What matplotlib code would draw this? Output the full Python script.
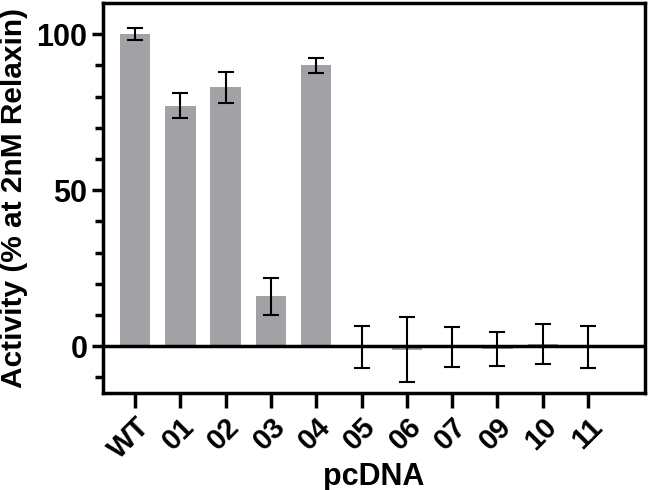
import matplotlib.pyplot as plt
import numpy as np

plt.rcParams['font.family'] = ['Liberation Sans', 'DejaVu Sans']
plt.rcParams['font.weight'] = 'bold'

# data
labels = ['WT', '01', '02', '03', '04', '05', '06', '07', '09', '10', '11']
activity = [100, 77, 83, 16, 90, -0.3, -1.2, -0.3, -1.0, 0.7, -0.3]
errors = [2, 4, 5, 6, 2.3, 6.8, 10.4, 6.5, 5.4, 6.5, 6.7]

fig = plt.figure(figsize=(6.51, 4.90), dpi=100)
ax = fig.add_axes([0.158, 0.198, 0.833, 0.796])

x = np.arange(len(labels))
ax.bar(x, activity, width=0.67, color='#a2a2a6', zorder=2)
ax.errorbar(x, activity, yerr=errors, fmt='none', ecolor='black',
            elinewidth=1.5, capsize=6, capthick=1.5, zorder=3)
ax.axhline(0, color='black', linewidth=2.5, zorder=4)

ax.set_xlim(-0.71, 11.26)
ax.set_ylim(-15, 110)
ax.set_yticks([0, 50, 100])
ax.set_yticks([-10, 10, 20, 30, 40, 60, 70, 80, 90], minor=True)
ax.set_xticks(x)
ax.set_xticklabels(labels, rotation=45, ha='right', rotation_mode='anchor',
                   fontsize=21, fontweight='bold')
for t in ax.get_yticklabels():
    t.set_fontsize(22)
    t.set_fontweight('bold')

for s in ax.spines.values():
    s.set_linewidth(2.5)

ax.tick_params(axis='y', which='major', length=8, width=2.5, pad=3)
ax.tick_params(axis='y', which='minor', length=6, width=2.5)
ax.tick_params(axis='x', which='major', length=11, width=2.5, pad=3)

ax.set_ylabel('Activity (% at 2nM Relaxin)', fontsize=21.5, fontweight='bold',
              labelpad=6)
ax.set_xlabel('pcDNA', fontsize=22, fontweight='bold', labelpad=-2)

fig.savefig('out.png', dpi=100)
